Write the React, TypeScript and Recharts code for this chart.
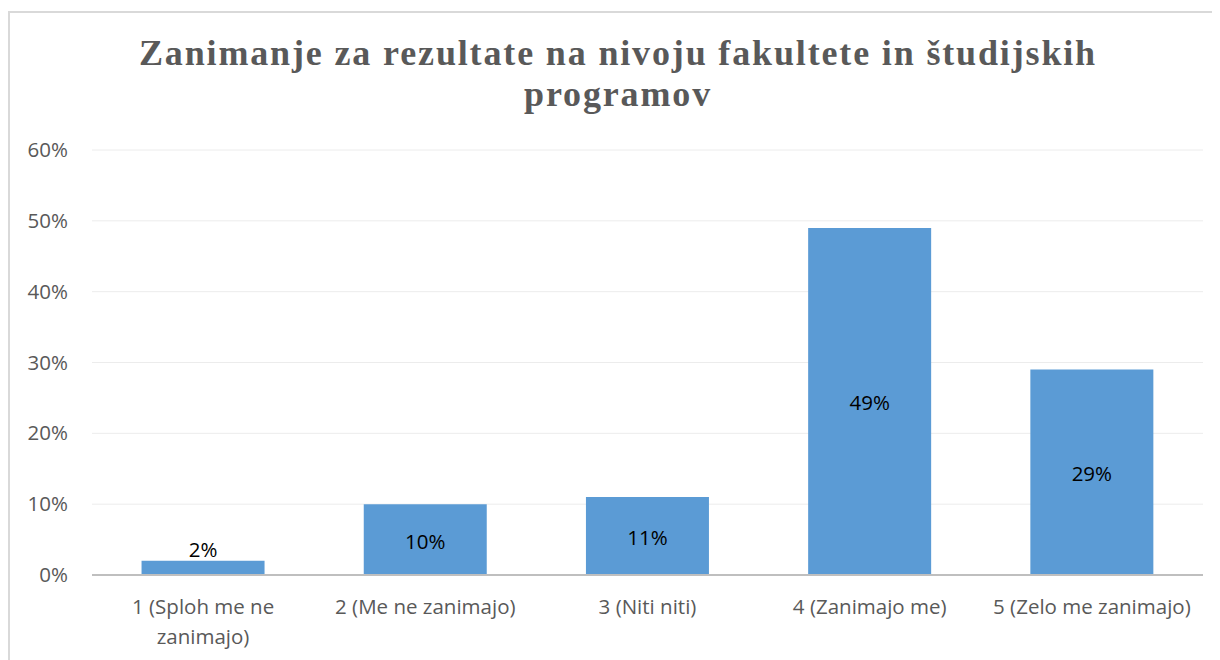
import React from "react";
import { BarChart, Bar, XAxis, YAxis, CartesianGrid, LabelList } from "recharts";

const categories = [
  "1 (Sploh me ne zanimajo)",
  "2 (Me ne zanimajo)",
  "3 (Niti niti)",
  "4 (Zanimajo me)",
  "5 (Zelo me zanimajo)",
];
const shares = [2, 10, 11, 49, 29];
const yTicks = [0, 10, 20, 30, 40, 50, 60];
const titleLines = ["Zanimanje za rezultate na nivoju fakultete in študijskih", "programov"];

const data = categories.map((c, i) => ({ name: c, value: shares[i] }));

const FONT = "'Open Sans', sans-serif";
const TICK_SIZE = 20.5;

let measureCtx: CanvasRenderingContext2D | null = null;
function measure(s: string): number {
  if (!measureCtx) {
    const c = document.createElement("canvas");
    measureCtx = c.getContext("2d");
  }
  if (!measureCtx) return s.length * TICK_SIZE * 0.55;
  measureCtx.font = `${TICK_SIZE}px 'Open Sans', sans-serif`;
  return measureCtx.measureText(s).width;
}

function wrap(label: string, maxWidth: number): string[] {
  const words = label.split(" ");
  const lines: string[] = [];
  let cur = "";
  for (const w of words) {
    const next = cur ? cur + " " + w : w;
    if (cur && measure(next) > maxWidth) {
      lines.push(cur);
      cur = w;
    } else {
      cur = next;
    }
  }
  if (cur) lines.push(cur);
  return lines;
}

const YTick = (props: any) => {
  const { y, payload } = props;
  return (
    <text x={60} y={y} dy={7} textAnchor="end" fill="#595959" fontSize={TICK_SIZE} fontFamily={FONT}>
      {payload.value}%
    </text>
  );
};

const XTick = (props: any) => {
  const { x, y, payload } = props;
  const lines = wrap(String(payload.value), 215);
  return (
    <text x={x} y={y + 31} textAnchor="middle" fill="#595959" fontSize={TICK_SIZE} fontFamily={FONT}>
      {lines.map((l, i) => (
        <tspan key={i} x={x} dy={i === 0 ? 0 : 30}>
          {l}
        </tspan>
      ))}
    </text>
  );
};

const BarLabel = (props: any) => {
  const { x, y, width, height, value } = props;
  const small = height < 30;
  const cy = small ? y - 4 : y + height / 2 + 9;
  return (
    <text x={x + width / 2} y={cy} textAnchor="middle" fill="#000000" fontSize={TICK_SIZE} fontFamily={FONT}>
      {value}%
    </text>
  );
};

export default function App() {
  return (
    <div
      style={{
        position: "relative",
        marginTop: 3,
        width: 1212,
        height: 652,
        borderTop: "2px solid #d9d9d9",
        borderLeft: "2px solid #d9d9d9",
        boxSizing: "border-box",
        background: "#fff",
        overflow: "visible",
      }}
    >
      <div
        style={{
          position: "absolute",
          right: -10,
          top: -2,
          width: 10,
          height: 2,
          background: "#d9d9d9",
        }}
      />
      <div
        style={{
          position: "absolute",
          left: 0,
          top: 20,
          width: 1216,
          textAlign: "center",
          fontFamily: "'Liberation Serif', 'Times New Roman', serif",
          fontWeight: "bold",
          fontSize: 36,
          lineHeight: "41px",
          color: "#595959",
          letterSpacing: 1.85,
        }}
      >
        {titleLines.map((l, i) => (
          <div key={i}>{l}</div>
        ))}
      </div>
      <div style={{ position: "absolute", left: -2, top: -2 }}>
        <BarChart
          width={1212}
          height={648}
          data={data}
          margin={{ top: 139, right: 17, left: 0, bottom: 0 }}
          barCategoryGap="22.3%"
        >
          <CartesianGrid vertical={false} stroke="#ececec" strokeWidth={1} />
          <XAxis
            dataKey="name"
            height={84}
            axisLine={{ stroke: "#bfbfbf", strokeWidth: 2 }}
            tickLine={false}
            tick={<XTick />}
            interval={0}
          />
          <YAxis
            width={84}
            domain={[0, 60]}
            ticks={yTicks}
            axisLine={false}
            tickLine={false}
            tick={<YTick />}
          />
          <Bar dataKey="value" fill="#5b9bd5" isAnimationActive={false}>
            <LabelList dataKey="value" content={<BarLabel />} />
          </Bar>
        </BarChart>
      </div>
    </div>
  );
}
